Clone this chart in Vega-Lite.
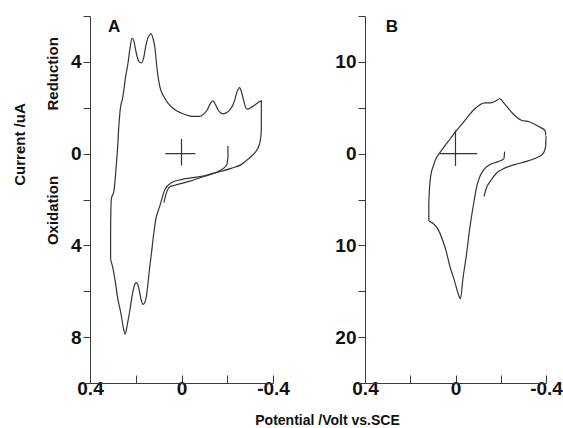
{
  "$schema": "https://vega.github.io/schema/vega-lite/v6.json",
  "padding": {"left": 12, "top": 7, "right": 0, "bottom": 0},
  "config": {
    "view": {"stroke": null},
    "font": "Liberation Sans",
    "axis": {"grid": false, "domainColor": "#3a3a3a", "tickColor": "#3a3a3a", "labelColor": "#111111", "labelFont": "Liberation Sans", "labelFontWeight": "bold", "labelFontSize": 19, "labelFlush": false, "labelOverlap": false, "titleColor": "#111111", "titleFont": "Liberation Sans", "titleFontWeight": "bold"}
  },
  "datasets": {
    "a": [
      {"trace": "a1", "k": 1, "v": 0.310, "i": -4.61},
      {"trace": "a1", "k": 2, "v": 0.310, "i": -3.45},
      {"trace": "a1", "k": 3, "v": 0.307, "i": -2.00},
      {"trace": "a1", "k": 4, "v": 0.295, "i": -1.60},
      {"trace": "a1", "k": 5, "v": 0.285, "i": -0.50},
      {"trace": "a1", "k": 6, "v": 0.278, "i": 0.46},
      {"trace": "a1", "k": 7, "v": 0.275, "i": 1.04},
      {"trace": "a1", "k": 8, "v": 0.268, "i": 1.91},
      {"trace": "a1", "k": 9, "v": 0.256, "i": 2.49},
      {"trace": "a1", "k": 10, "v": 0.245, "i": 3.30},
      {"trace": "a1", "k": 11, "v": 0.234, "i": 3.94},
      {"trace": "a1", "k": 12, "v": 0.225, "i": 4.60},
      {"trace": "a1", "k": 13, "v": 0.216, "i": 5.04},
      {"trace": "a1", "k": 14, "v": 0.208, "i": 4.90},
      {"trace": "a1", "k": 15, "v": 0.199, "i": 4.45},
      {"trace": "a1", "k": 16, "v": 0.188, "i": 4.05},
      {"trace": "a1", "k": 17, "v": 0.176, "i": 3.95},
      {"trace": "a1", "k": 18, "v": 0.165, "i": 4.20},
      {"trace": "a1", "k": 19, "v": 0.155, "i": 4.75},
      {"trace": "a1", "k": 20, "v": 0.142, "i": 5.15},
      {"trace": "a1", "k": 21, "v": 0.133, "i": 5.22},
      {"trace": "a1", "k": 22, "v": 0.124, "i": 5.00},
      {"trace": "a1", "k": 23, "v": 0.117, "i": 4.67},
      {"trace": "a1", "k": 24, "v": 0.108, "i": 3.80},
      {"trace": "a1", "k": 25, "v": 0.095, "i": 2.93},
      {"trace": "a1", "k": 26, "v": 0.077, "i": 2.48},
      {"trace": "a1", "k": 27, "v": 0.059, "i": 2.20},
      {"trace": "a1", "k": 28, "v": 0.030, "i": 1.92},
      {"trace": "a1", "k": 29, "v": 0.001, "i": 1.77},
      {"trace": "a1", "k": 30, "v": -0.030, "i": 1.66},
      {"trace": "a1", "k": 31, "v": -0.055, "i": 1.62},
      {"trace": "a1", "k": 32, "v": -0.080, "i": 1.62},
      {"trace": "a1", "k": 33, "v": -0.097, "i": 1.72},
      {"trace": "a1", "k": 34, "v": -0.112, "i": 1.90},
      {"trace": "a1", "k": 35, "v": -0.126, "i": 2.18},
      {"trace": "a1", "k": 36, "v": -0.138, "i": 2.30},
      {"trace": "a1", "k": 37, "v": -0.148, "i": 2.15},
      {"trace": "a1", "k": 38, "v": -0.160, "i": 1.90},
      {"trace": "a1", "k": 39, "v": -0.172, "i": 1.77},
      {"trace": "a1", "k": 40, "v": -0.181, "i": 1.73},
      {"trace": "a1", "k": 41, "v": -0.200, "i": 1.80},
      {"trace": "a1", "k": 42, "v": -0.215, "i": 1.95},
      {"trace": "a1", "k": 43, "v": -0.230, "i": 2.25},
      {"trace": "a1", "k": 44, "v": -0.243, "i": 2.70},
      {"trace": "a1", "k": 45, "v": -0.254, "i": 2.88},
      {"trace": "a1", "k": 46, "v": -0.262, "i": 2.70},
      {"trace": "a1", "k": 47, "v": -0.272, "i": 2.30},
      {"trace": "a1", "k": 48, "v": -0.281, "i": 2.00},
      {"trace": "a1", "k": 49, "v": -0.288, "i": 1.94},
      {"trace": "a1", "k": 50, "v": -0.305, "i": 2.02},
      {"trace": "a1", "k": 51, "v": -0.325, "i": 2.15},
      {"trace": "a1", "k": 52, "v": -0.349, "i": 2.30},
      {"trace": "a1", "k": 53, "v": -0.349, "i": 1.70},
      {"trace": "a1", "k": 54, "v": -0.349, "i": 1.04},
      {"trace": "a1", "k": 55, "v": -0.344, "i": 0.55},
      {"trace": "a1", "k": 56, "v": -0.333, "i": 0.22},
      {"trace": "a1", "k": 57, "v": -0.320, "i": 0.03},
      {"trace": "a1", "k": 58, "v": -0.290, "i": -0.25},
      {"trace": "a1", "k": 59, "v": -0.261, "i": -0.48},
      {"trace": "a1", "k": 60, "v": -0.220, "i": -0.63},
      {"trace": "a1", "k": 61, "v": -0.174, "i": -0.77},
      {"trace": "a1", "k": 62, "v": -0.130, "i": -0.88},
      {"trace": "a1", "k": 63, "v": -0.087, "i": -0.99},
      {"trace": "a1", "k": 64, "v": -0.043, "i": -1.06},
      {"trace": "a1", "k": 65, "v": 0.001, "i": -1.13},
      {"trace": "a1", "k": 66, "v": 0.045, "i": -1.27},
      {"trace": "a1", "k": 67, "v": 0.073, "i": -1.57},
      {"trace": "a1", "k": 68, "v": 0.095, "i": -2.29},
      {"trace": "a1", "k": 69, "v": 0.113, "i": -2.90},
      {"trace": "a1", "k": 70, "v": 0.124, "i": -3.70},
      {"trace": "a1", "k": 71, "v": 0.132, "i": -4.40},
      {"trace": "a1", "k": 72, "v": 0.139, "i": -4.95},
      {"trace": "a1", "k": 73, "v": 0.147, "i": -5.70},
      {"trace": "a1", "k": 74, "v": 0.154, "i": -6.25},
      {"trace": "a1", "k": 75, "v": 0.161, "i": -6.50},
      {"trace": "a1", "k": 76, "v": 0.168, "i": -6.57},
      {"trace": "a1", "k": 77, "v": 0.177, "i": -6.35},
      {"trace": "a1", "k": 78, "v": 0.186, "i": -5.90},
      {"trace": "a1", "k": 79, "v": 0.193, "i": -5.66},
      {"trace": "a1", "k": 80, "v": 0.198, "i": -5.62},
      {"trace": "a1", "k": 81, "v": 0.206, "i": -5.75},
      {"trace": "a1", "k": 82, "v": 0.215, "i": -6.15},
      {"trace": "a1", "k": 83, "v": 0.226, "i": -6.85},
      {"trace": "a1", "k": 84, "v": 0.237, "i": -7.45},
      {"trace": "a1", "k": 85, "v": 0.246, "i": -7.87},
      {"trace": "a1", "k": 86, "v": 0.255, "i": -7.55},
      {"trace": "a1", "k": 87, "v": 0.265, "i": -6.95},
      {"trace": "a1", "k": 88, "v": 0.278, "i": -6.35},
      {"trace": "a1", "k": 89, "v": 0.290, "i": -5.55},
      {"trace": "a1", "k": 90, "v": 0.299, "i": -5.04},
      {"trace": "a1", "k": 91, "v": 0.310, "i": -4.61},
      {"trace": "a2", "k": 1, "v": -0.203, "i": 0.33},
      {"trace": "a2", "k": 2, "v": -0.203, "i": -0.17},
      {"trace": "a2", "k": 3, "v": -0.196, "i": -0.52},
      {"trace": "a2", "k": 4, "v": -0.168, "i": -0.74},
      {"trace": "a2", "k": 5, "v": -0.125, "i": -0.92},
      {"trace": "a2", "k": 6, "v": -0.081, "i": -1.05},
      {"trace": "a2", "k": 7, "v": -0.037, "i": -1.20},
      {"trace": "a2", "k": 8, "v": 0.001, "i": -1.30},
      {"trace": "a2", "k": 9, "v": 0.030, "i": -1.38},
      {"trace": "a2", "k": 10, "v": 0.052, "i": -1.45},
      {"trace": "a2", "k": 11, "v": 0.066, "i": -1.71},
      {"trace": "a2", "k": 12, "v": 0.077, "i": -2.14}
    ],
    "b": [
      {"trace": "b1", "k": 1, "v": -0.217, "i": 0.22},
      {"trace": "b1", "k": 2, "v": -0.214, "i": -0.54},
      {"trace": "b1", "k": 3, "v": -0.188, "i": -0.87},
      {"trace": "b1", "k": 4, "v": -0.152, "i": -1.20},
      {"trace": "b1", "k": 5, "v": -0.122, "i": -1.85},
      {"trace": "b1", "k": 6, "v": -0.104, "i": -2.72},
      {"trace": "b1", "k": 7, "v": -0.092, "i": -3.80},
      {"trace": "b1", "k": 8, "v": -0.084, "i": -4.89},
      {"trace": "b1", "k": 9, "v": -0.075, "i": -6.20},
      {"trace": "b1", "k": 10, "v": -0.063, "i": -8.15},
      {"trace": "b1", "k": 11, "v": -0.048, "i": -11.09},
      {"trace": "b1", "k": 12, "v": -0.033, "i": -13.59},
      {"trace": "b1", "k": 13, "v": -0.022, "i": -15.80},
      {"trace": "b1", "k": 14, "v": -0.011, "i": -15.20},
      {"trace": "b1", "k": 15, "v": 0.004, "i": -13.90},
      {"trace": "b1", "k": 16, "v": 0.026, "i": -12.17},
      {"trace": "b1", "k": 17, "v": 0.041, "i": -10.65},
      {"trace": "b1", "k": 18, "v": 0.055, "i": -9.57},
      {"trace": "b1", "k": 19, "v": 0.077, "i": -8.26},
      {"trace": "b1", "k": 20, "v": 0.099, "i": -7.61},
      {"trace": "b1", "k": 21, "v": 0.118, "i": -7.28},
      {"trace": "b1", "k": 22, "v": 0.118, "i": -5.65},
      {"trace": "b1", "k": 23, "v": 0.115, "i": -3.80},
      {"trace": "b1", "k": 24, "v": 0.110, "i": -2.50},
      {"trace": "b1", "k": 25, "v": 0.099, "i": -1.41},
      {"trace": "b1", "k": 26, "v": 0.084, "i": -0.43},
      {"trace": "b1", "k": 27, "v": 0.069, "i": 0.11},
      {"trace": "b1", "k": 28, "v": 0.033, "i": 1.30},
      {"trace": "b1", "k": 29, "v": -0.004, "i": 2.50},
      {"trace": "b1", "k": 30, "v": -0.041, "i": 3.59},
      {"trace": "b1", "k": 31, "v": -0.085, "i": 4.89},
      {"trace": "b1", "k": 32, "v": -0.129, "i": 5.54},
      {"trace": "b1", "k": 33, "v": -0.158, "i": 5.54},
      {"trace": "b1", "k": 34, "v": -0.175, "i": 5.71},
      {"trace": "b1", "k": 35, "v": -0.195, "i": 5.98},
      {"trace": "b1", "k": 36, "v": -0.217, "i": 5.43},
      {"trace": "b1", "k": 37, "v": -0.254, "i": 4.35},
      {"trace": "b1", "k": 38, "v": -0.291, "i": 3.64},
      {"trace": "b1", "k": 39, "v": -0.328, "i": 3.45},
      {"trace": "b1", "k": 40, "v": -0.372, "i": 2.90},
      {"trace": "b1", "k": 41, "v": -0.396, "i": 2.50},
      {"trace": "b1", "k": 42, "v": -0.400, "i": 1.96},
      {"trace": "b1", "k": 43, "v": -0.399, "i": 0.87},
      {"trace": "b1", "k": 44, "v": -0.387, "i": 0.00},
      {"trace": "b1", "k": 45, "v": -0.350, "i": -0.54},
      {"trace": "b1", "k": 46, "v": -0.306, "i": -0.90},
      {"trace": "b1", "k": 47, "v": -0.262, "i": -1.20},
      {"trace": "b1", "k": 48, "v": -0.217, "i": -1.58},
      {"trace": "b1", "k": 49, "v": -0.180, "i": -2.17},
      {"trace": "b1", "k": 50, "v": -0.156, "i": -2.93},
      {"trace": "b1", "k": 51, "v": -0.136, "i": -3.80},
      {"trace": "b1", "k": 52, "v": -0.126, "i": -4.67}
    ],
    "crossA": [
      {"v": 0.071, "v2": -0.060, "i": 0, "i2": 0},
      {"v": 0, "v2": 0, "i": 0.64, "i2": -0.52}
    ],
    "crossB": [
      {"v": 0.070, "v2": -0.096, "i": 0, "i2": 0},
      {"v": 0, "v2": 0, "i": 2.53, "i2": -1.34}
    ],
    "panelA": [{"label": "A", "v": 0.295, "i": 5.30}],
    "panelB": [{"label": "B", "v": 0.281, "i": 13.26}],
    "sideA": [
      {"label": "Reduction", "v": 0.54, "i": 3.48},
      {"label": "Oxidation", "v": 0.54, "i": -2.48}
    ]
  },
  "spacing": 92,
  "bounds": "flush",
  "hconcat": [
    {
      "width": 183,
      "height": 367,
      "layer": [
        {
          "data": {"name": "a"},
          "mark": {"type": "line", "color": "#333333", "strokeWidth": 1.2, "interpolate": "monotone"},
          "encoding": {
            "x": {"field": "v", "type": "quantitative",
              "scale": {"domain": [-0.4, 0.4], "reverse": true, "nice": false, "zero": false},
              "axis": {"values": [0.4, 0.2, 0, -0.2, -0.4],
                "labelExpr": "datum.value == 0.4 ? '0.4' : datum.value == 0 ? '0' : datum.value == -0.4 ? '-0.4' : ''",
                "tickSize": -8, "labelPadding": 4,
                "title": "Potential /Volt vs.SCE", "titleX": 237, "titleY": 41, "titleAlign": "center", "titleBaseline": "alphabetic", "titleFontSize": 14}},
            "y": {"field": "i", "type": "quantitative",
              "scale": {"domain": [-10, 6], "nice": false, "zero": false},
              "axis": {"values": [-10, -8, -6, -4, -2, 0, 2, 4, 6],
                "labelExpr": "datum.value % 4 == 0 && datum.value > -10 ? '' + abs(datum.value) : ''",
                "tickSize": 7, "labelPadding": 2,
                "title": "Current /uA", "titleAngle": 270, "titleX": -66, "titleY": 128, "titleAlign": "center", "titleBaseline": "alphabetic", "titleFontSize": 15}},
            "detail": {"field": "trace"},
            "order": {"field": "k", "type": "quantitative"}
          }
        },
        {
          "data": {"name": "crossA"},
          "mark": {"type": "rule", "color": "#333333", "strokeWidth": 1.2},
          "encoding": {
            "x": {"field": "v", "type": "quantitative"},
            "x2": {"field": "v2"},
            "y": {"field": "i", "type": "quantitative"},
            "y2": {"field": "i2"}
          }
        },
        {
          "data": {"name": "panelA"},
          "mark": {"type": "text", "font": "Liberation Sans", "fontWeight": "bold", "fontSize": 17, "align": "center", "baseline": "alphabetic", "color": "#111111"},
          "encoding": {
            "x": {"field": "v", "type": "quantitative"},
            "y": {"field": "i", "type": "quantitative"},
            "text": {"field": "label"}
          }
        },
        {
          "data": {"name": "sideA"},
          "mark": {"type": "text", "font": "Liberation Sans", "fontWeight": "bold", "fontSize": 15, "angle": 270, "align": "center", "baseline": "alphabetic", "color": "#111111"},
          "encoding": {
            "x": {"field": "v", "type": "quantitative"},
            "y": {"field": "i", "type": "quantitative"},
            "text": {"field": "label"}
          }
        }
      ]
    },
    {
      "width": 181,
      "height": 367,
      "layer": [
        {
          "data": {"name": "b"},
          "mark": {"type": "line", "color": "#333333", "strokeWidth": 1.2, "interpolate": "monotone"},
          "encoding": {
            "x": {"field": "v", "type": "quantitative",
              "scale": {"domain": [-0.4, 0.4], "reverse": true, "nice": false, "zero": false},
              "axis": {"values": [0.4, 0.2, 0, -0.2, -0.4],
                "labelExpr": "datum.value == 0.4 ? '0.4' : datum.value == 0 ? '0' : datum.value == -0.4 ? '-0.4' : ''",
                "tickSize": -8, "labelPadding": 4, "title": null}},
            "y": {"field": "i", "type": "quantitative",
              "scale": {"domain": [-25, 15], "nice": false, "zero": false},
              "axis": {"values": [-25, -20, -15, -10, -5, 0, 5, 10, 15],
                "labelExpr": "datum.value % 10 == 0 && datum.value > -25 ? '' + abs(datum.value) : ''",
                "tickSize": 7, "labelPadding": 2, "title": null}},
            "detail": {"field": "trace"},
            "order": {"field": "k", "type": "quantitative"}
          }
        },
        {
          "data": {"name": "crossB"},
          "mark": {"type": "rule", "color": "#333333", "strokeWidth": 1.2},
          "encoding": {
            "x": {"field": "v", "type": "quantitative"},
            "x2": {"field": "v2"},
            "y": {"field": "i", "type": "quantitative"},
            "y2": {"field": "i2"}
          }
        },
        {
          "data": {"name": "panelB"},
          "mark": {"type": "text", "font": "Liberation Sans", "fontWeight": "bold", "fontSize": 17, "align": "center", "baseline": "alphabetic", "color": "#111111"},
          "encoding": {
            "x": {"field": "v", "type": "quantitative"},
            "y": {"field": "i", "type": "quantitative"},
            "text": {"field": "label"}
          }
        }
      ]
    }
  ]
}
